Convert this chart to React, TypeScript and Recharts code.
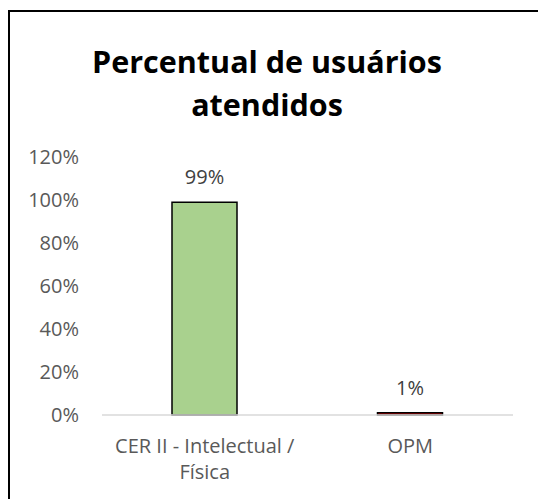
import { BarChart, Bar, XAxis, YAxis, Cell, LabelList } from "recharts";

const categorias = ["CER II - Intelectual /\nFísica", "OPM"];
const percentuais = [0.99, 0.01];
const cores = ["#A9D18E", "#C00000"];
const yTicks = [0, 0.2, 0.4, 0.6, 0.8, 1.0, 1.2];

const data = categorias.map((categoria, i) => ({ categoria, valor: percentuais[i] }));

const FONT = "'Open Sans', sans-serif";

function pct(v: number) {
  return `${Math.round(v * 100)}%`;
}

// rótulo do eixo X em várias linhas
function CategoryTick(props: any) {
  const { x, y, payload } = props;
  const lines = String(payload.value).split("\n");
  return (
    <text x={x} y={y} textAnchor="middle" fill="#595959" fontSize={20} fontFamily={FONT}>
      {lines.map((line, i) => (
        <tspan key={i} x={x} y={y + 38 + i * 26}>
          {line}
        </tspan>
      ))}
    </text>
  );
}

export default function App() {
  return (
    <div style={{ position: "fixed", left: 0, top: 0, width: 538, height: 499, overflow: "hidden", background: "#fff" }}>
      <div
        style={{
          position: "absolute", left: 8, top: 10, width: 560, height: 520,
          border: "2px solid #000", boxSizing: "border-box",
        }}
      />
      <div
        style={{
          position: "absolute", left: 67, top: 40, width: 400, textAlign: "center",
          fontFamily: FONT, fontWeight: 700, fontSize: 30.5, lineHeight: "43px", color: "#000",
        }}
      >
        Percentual de usuários
        <br />
        atendidos
      </div>
      <div style={{ position: "absolute", left: 0, top: 0 }}>
        <BarChart
          width={538}
          height={499}
          data={data}
          margin={{ top: 157, right: 25, left: 42, bottom: 24 }}
          barSize={65}
        >
          <XAxis
            dataKey="categoria"
            height={60}
            tickLine={false}
            tickSize={0}
            tickMargin={0}
            axisLine={{ stroke: "#D9D9D9", strokeWidth: 1.5 }}
            tick={<CategoryTick />}
            interval={0}
          />
          <YAxis
            width={60}
            type="number"
            domain={[0, 1.2]}
            ticks={yTicks}
            tickFormatter={pct}
            axisLine={false}
            tickLine={false}
            tickSize={0}
            tickMargin={23}
            tick={{ fill: "#595959", fontSize: 20, fontFamily: FONT }}
          />
          <Bar dataKey="valor" stroke="#000" strokeWidth={1.5} isAnimationActive={false}>
            {data.map((_, i) => (
              <Cell key={i} fill={cores[i]} />
            ))}
            <LabelList
              dataKey="valor"
              position="top"
              offset={18}
              formatter={(v: any) => pct(Number(v))}
              fill="#404040"
              fontSize={20}
              fontFamily={FONT}
            />
          </Bar>
        </BarChart>
      </div>
    </div>
  );
}
